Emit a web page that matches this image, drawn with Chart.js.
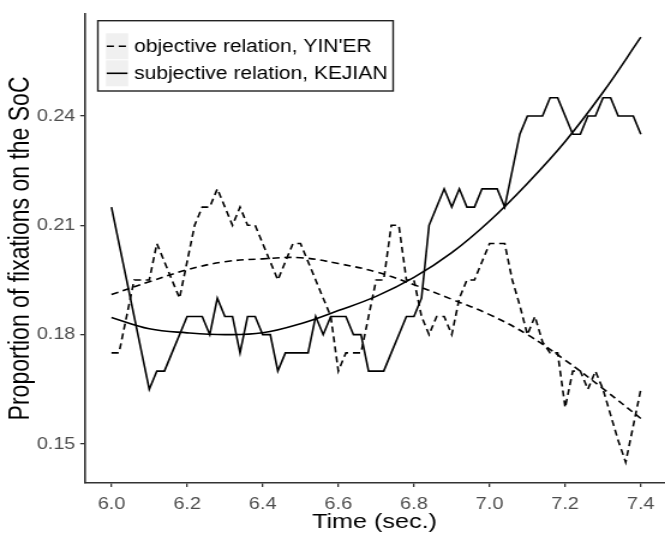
<!DOCTYPE html>
<html>
<head>
<meta charset="utf-8">
<title>Proportion of fixations on the SoC</title>
<script src="https://cdn.jsdelivr.net/npm/chart.js@4.4.1/dist/chart.umd.min.js"></script>
<style>
  html, body { margin: 0; padding: 0; background: #fff; overflow: hidden; }
  /* the source picture is stretched sideways, so the chart is drawn narrower and scaled */
  #wrap { width: 554px; height: 537px; transform: scaleX(1.2004); transform-origin: 0 0; }
</style>
</head>
<body>
<div id="wrap"><canvas id="fixChart"></canvas></div>
<script>
// ==============================
// DATA
// ==============================
const timeSec = [
  6.00, 6.02, 6.04, 6.06, 6.08, 6.10, 6.12, 6.14, 6.16, 6.18,
  6.20, 6.22, 6.24, 6.26, 6.28, 6.30, 6.32, 6.34, 6.36, 6.38,
  6.40, 6.42, 6.44, 6.46, 6.48, 6.50, 6.52, 6.54, 6.56, 6.58,
  6.60, 6.62, 6.64, 6.66, 6.68, 6.70, 6.72, 6.74, 6.76, 6.78,
  6.80, 6.82, 6.84, 6.86, 6.88, 6.90, 6.92, 6.94, 6.96, 6.98,
  7.00, 7.02, 7.04, 7.06, 7.08, 7.10, 7.12, 7.14, 7.16, 7.18,
  7.20, 7.22, 7.24, 7.26, 7.28, 7.30, 7.32, 7.34, 7.36, 7.38,
  7.40
];

// objective relation, YIN'ER (dashed)
const yinEr = [
  0.175, 0.175, 0.185, 0.195, 0.195, 0.195, 0.205, 0.200, 0.195, 0.190,
  0.200, 0.210, 0.215, 0.215, 0.220, 0.215, 0.210, 0.215, 0.210, 0.210,
  0.205, 0.200, 0.195, 0.200, 0.205, 0.205, 0.200, 0.195, 0.190, 0.185,
  0.170, 0.175, 0.175, 0.175, 0.185, 0.195, 0.195, 0.210, 0.210, 0.195,
  0.195, 0.185, 0.180, 0.185, 0.185, 0.180, 0.190, 0.195, 0.195, 0.200,
  0.205, 0.205, 0.205, 0.195, 0.188, 0.180, 0.185, 0.178, 0.175, 0.175,
  0.160, 0.170, 0.170, 0.165, 0.170, 0.165, 0.158, 0.151, 0.145, 0.155,
  0.165
];

// subjective relation, KEJIAN (solid)
const kejian = [
  0.215, 0.205, 0.195, 0.185, 0.175, 0.165, 0.170, 0.170, 0.175, 0.180,
  0.185, 0.185, 0.185, 0.180, 0.190, 0.185, 0.185, 0.175, 0.185, 0.185,
  0.180, 0.180, 0.170, 0.175, 0.175, 0.175, 0.175, 0.185, 0.180, 0.185,
  0.185, 0.185, 0.180, 0.180, 0.170, 0.170, 0.170, 0.175, 0.180, 0.185,
  0.185, 0.190, 0.210, 0.215, 0.220, 0.215, 0.220, 0.215, 0.215, 0.220,
  0.220, 0.220, 0.215, 0.225, 0.235, 0.240, 0.240, 0.240, 0.245, 0.245,
  0.240, 0.235, 0.235, 0.240, 0.240, 0.245, 0.245, 0.240, 0.240, 0.240,
  0.235
];

const fitTime = [6.0, 6.1, 6.2, 6.3, 6.4, 6.5, 6.6, 6.7, 6.8, 6.9, 7.0, 7.1, 7.2, 7.3, 7.4];
const yinErFit = [0.1910, 0.1945, 0.1978, 0.2000, 0.2008, 0.2011, 0.1995, 0.1972, 0.1937, 0.1897, 0.1855, 0.1800, 0.1730, 0.1652, 0.1570];
const kejianFit = [0.1847, 0.1816, 0.1805, 0.1800, 0.1805, 0.1830, 0.1866, 0.1905, 0.1957, 0.2025, 0.2112, 0.2215, 0.2330, 0.2465, 0.2616];

const xTicks = [6.0, 6.2, 6.4, 6.6, 6.8, 7.0, 7.2, 7.4];
const yTicks = [0.15, 0.18, 0.21, 0.24];

const seriesNames = ["objective relation, YIN'ER", "subjective relation, KEJIAN"];

// ==============================
// HELPERS
// ==============================
const FONT = "'Liberation Sans', Arial, sans-serif";
const INK = "#000";
const DASH = [6, 4];

const toPoints = (xs, ys) => xs.map((x, i) => ({ x, y: ys[i] }));

// ggplot-style legend box drawn inside the panel
const legendBox = {
  id: "legendBox",
  afterDraw(chart) {
    const ctx = chart.ctx;
    const sets = chart.data.datasets.filter(d => d.inLegend);
    ctx.save();
    ctx.fillStyle = "#fff";
    ctx.fillRect(81.5, 20.7, 246, 70.3);
    ctx.strokeStyle = "#222";
    ctx.lineWidth = 1.4;
    ctx.strokeRect(81.5, 20.7, 246, 70.3);
    sets.forEach((ds, i) => {
      const top = 33.3 + i * 27;
      ctx.fillStyle = "#f0f0f0";
      ctx.fillRect(88.3, top, 18.4, 26);
      ctx.strokeStyle = ds.borderColor;
      ctx.lineWidth = ds.borderWidth;
      ctx.setLineDash(ds.borderDash || []);
      ctx.beginPath();
      ctx.moveTo(88.9, top + 13);
      ctx.lineTo(106.2, top + 13);
      ctx.stroke();
      ctx.setLineDash([]);
      ctx.fillStyle = "#000";
      ctx.font = "17.5px " + FONT;
      ctx.textBaseline = "middle";
      ctx.textAlign = "left";
      ctx.fillText(ds.label, 111.7, top + 14);
    });
    ctx.restore();
  }
};

// ==============================
// CHART
// ==============================
new Chart(document.getElementById("fixChart"), {
  type: "line",
  data: {
    datasets: [
      {
        label: seriesNames[0], inLegend: true,
        data: toPoints(timeSec, yinEr),
        borderColor: INK, borderWidth: 1.6, borderDash: DASH,
        pointRadius: 0, tension: 0, fill: false
      },
      {
        label: seriesNames[1], inLegend: true,
        data: toPoints(timeSec, kejian),
        borderColor: INK, borderWidth: 1.6,
        pointRadius: 0, tension: 0, fill: false
      },
      {
        label: "fit, YIN'ER",
        data: toPoints(fitTime, yinErFit),
        borderColor: INK, borderWidth: 1.6, borderDash: DASH,
        pointRadius: 0, tension: 0.4, fill: false
      },
      {
        label: "fit, KEJIAN",
        data: toPoints(fitTime, kejianFit),
        borderColor: INK, borderWidth: 1.6,
        pointRadius: 0, tension: 0.4, fill: false
      }
    ]
  },
  options: {
    responsive: true,
    maintainAspectRatio: false,
    animation: false,
    layout: { padding: { top: 7, right: 0, bottom: 0, left: 0 } },
    plugins: { legend: { display: false }, tooltip: { enabled: false } },
    scales: {
      x: {
        type: "linear",
        min: 5.93,
        max: 7.4615,
        afterBuildTicks: s => { s.ticks = xTicks.map(v => ({ value: v })); },
        afterFit: s => { s.height = 54; },
        grid: { drawOnChartArea: false, drawTicks: true, tickLength: 4, color: "#333", lineWidth: 1.3 },
        border: { display: true, color: "#333", width: 1.6 },
        ticks: {
          color: "#4d4d4d", padding: 8, maxRotation: 0, autoSkip: false,
          font: { family: FONT, size: 16.5 },
          callback: v => Number(v).toFixed(1)
        },
        title: {
          display: true, text: "Time (sec.)", color: "#000",
          font: { family: FONT, size: 21 }, padding: { top: 0, bottom: 2 }
        }
      },
      y: {
        min: 0.1393,
        max: 0.268,
        afterBuildTicks: s => { s.ticks = yTicks.map(v => ({ value: v })); },
        afterFit: s => { s.width = 70.8; },
        grid: { drawOnChartArea: false, drawTicks: true, tickLength: 4, color: "#333", lineWidth: 1.3 },
        border: { display: true, color: "#333", width: 1.6 },
        ticks: {
          color: "#4d4d4d", padding: 4, autoSkip: false,
          font: { family: FONT, size: 16.5 },
          callback: v => Number(v).toFixed(2)
        },
        title: {
          display: true, text: "Proportion of fixations on the SoC", color: "#000",
          font: { family: FONT, size: 23 }, padding: { top: 4, bottom: 0 }
        }
      }
    }
  },
  plugins: [legendBox]
});
</script>
</body>
</html>
